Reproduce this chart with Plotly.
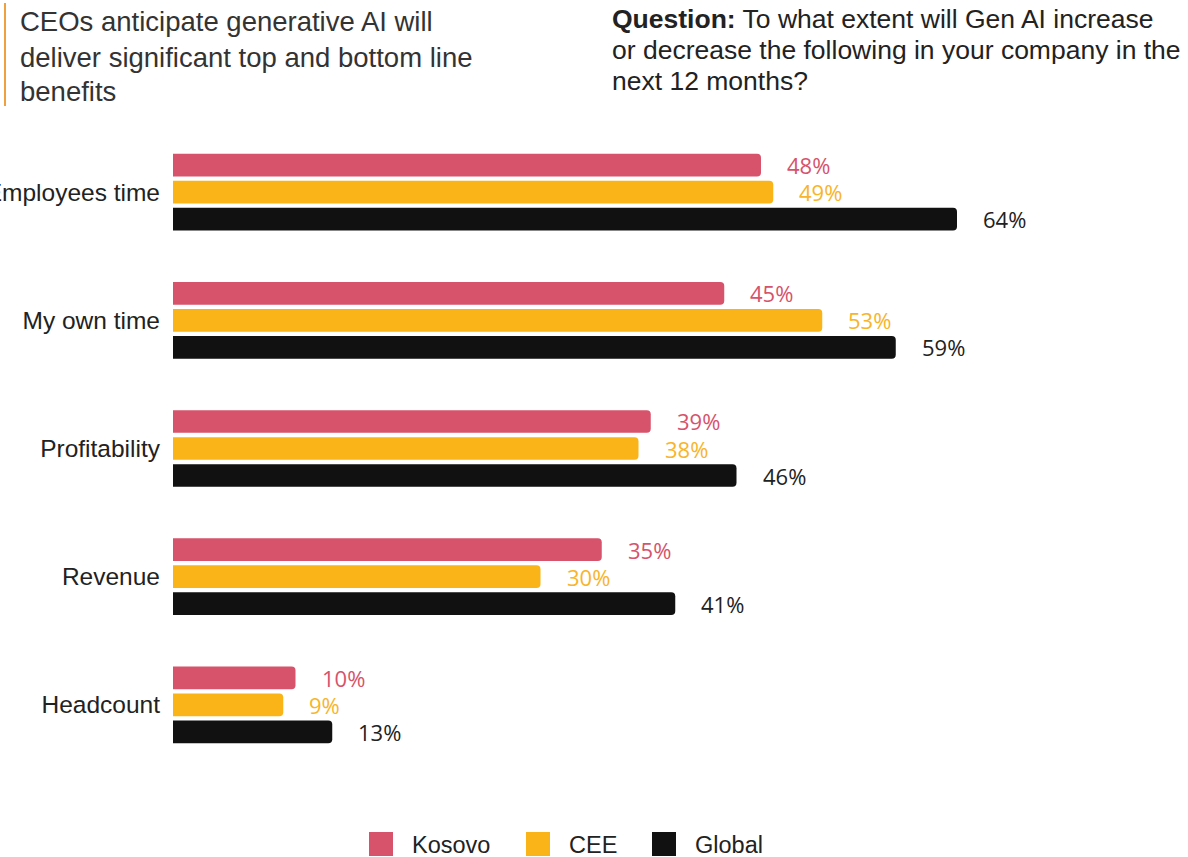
import plotly.graph_objects as go

# Survey data
categories = ["Employees time", "My own time", "Profitability", "Revenue", "Headcount"]
series_names = ["Kosovo", "CEE", "Global"]
kosovo = [48, 45, 39, 35, 10]
cee = [49, 53, 38, 30, 9]
global_vals = [64, 59, 46, 41, 13]

series_values = [kosovo, cee, global_vals]
bar_colors = ["#D6536B", "#FBB417", "#111111"]
label_colors = ["#D6536B", "#F8B42A", "#222222"]

W, H = 1188, 857
M_L, M_R, M_T, M_B = 173, 15, 128, 88
PW, PH = W - M_L - M_R, H - M_T - M_B
PX_PER_PCT = 12.25


def px_x(px):
    return (px - M_L) / PW


def px_y(py):
    return (H - M_B - py) / PH


BARGAP = 0.368
slot = (1 - BARGAP) / len(series_names)

fig = go.Figure()
for name, vals, col in zip(series_names, series_values, bar_colors):
    fig.add_trace(go.Bar(
        y=categories, x=vals, name=name, orientation="h",
        marker=dict(color=col, line=dict(width=0), cornerradius=4),
        showlegend=False, hoverinfo="x+y",
    ))

annotations = []
# value labels placed just right of each bar
for i, (vals, col) in enumerate(zip(series_values, label_colors)):
    for k, v in enumerate(vals):
        annotations.append(dict(
            x=v, y=k + (i - 1) * slot, xref="x", yref="y",
            text=f"{v}%", showarrow=False, xanchor="left", yanchor="middle",
            xshift=24, font=dict(family="Open Sans", size=22, color=col),
        ))

# heading on the left
title_lines = ["CEOs anticipate generative AI will",
               "deliver significant top and bottom line",
               "benefits"]
for j, line in enumerate(title_lines):
    annotations.append(dict(
        x=px_x(18), y=px_y(22 + 35 * j), xref="paper", yref="paper",
        text=line, showarrow=False, xanchor="left", yanchor="middle",
        font=dict(family="Liberation Sans, Arial", size=27.5, color="#333333"),
    ))

# question text on the right
q_lines = ["<b>Question:</b> To what extent will Gen AI increase",
           "or decrease the following in your company in the",
           "next 12 months?"]
for j, line in enumerate(q_lines):
    annotations.append(dict(
        x=px_x(610), y=px_y(19 + 31 * j), xref="paper", yref="paper",
        text=line, showarrow=False, xanchor="left", yanchor="middle",
        font=dict(family="Liberation Sans, Arial", size=26.5, color="#222222"),
    ))

shapes = [dict(type="line", xref="paper", yref="paper",
               x0=px_x(5), x1=px_x(5), y0=px_y(3), y1=px_y(106),
               line=dict(color="#F0A03C", width=2))]

# legend built from the series names and colours
legend_x = [369, 526, 652]
for name, col, lx in zip(series_names, bar_colors, legend_x):
    shapes.append(dict(type="rect", xref="paper", yref="paper",
                       x0=px_x(lx), x1=px_x(lx + 24), y0=px_y(832), y1=px_y(856),
                       fillcolor=col, line=dict(width=0), layer="above"))
    annotations.append(dict(
        x=px_x(lx + 41), y=px_y(845), xref="paper", yref="paper",
        text=name, showarrow=False, xanchor="left", yanchor="middle",
        font=dict(family="Liberation Sans, Arial", size=23.5, color="#222222"),
    ))

fig.update_layout(
    width=W, height=H,
    margin=dict(l=M_L, r=M_R, t=M_T, b=M_B, pad=0),
    paper_bgcolor="white", plot_bgcolor="white",
    barmode="group", bargap=BARGAP, bargroupgap=0.16,
    showlegend=False,
    annotations=annotations, shapes=shapes,
    xaxis=dict(range=[0, PW / PX_PER_PCT], visible=False, fixedrange=True),
    yaxis=dict(autorange="reversed", showline=False, showgrid=False, zeroline=False,
               ticks="", ticklabelstandoff=12, automargin=False,
               tickfont=dict(family="Liberation Sans, Arial", size=24.5, color="#222222")),
)

fig.write_html("out.html", config={"displayModeBar": False})
